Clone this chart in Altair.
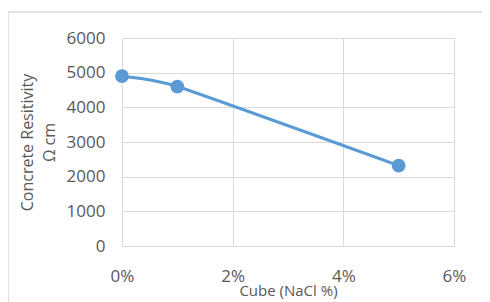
import altair as alt
import pandas as pd

nacl = [0.0, 0.01, 0.05]
resistivity = [4900, 4600, 2320]

df = pd.DataFrame({"nacl": nacl, "res": resistivity})

FONT = "Open Sans"
TXT = "#595959"
GRID = "#d9d9d9"
BLUE = "#5b9bd5"

x_enc = alt.X(
    "nacl:Q",
    scale=alt.Scale(domain=[0, 0.06], nice=False),
    axis=alt.Axis(
        values=[0, 0.02, 0.04, 0.06], format=".0%", title="Cube (NaCl %)",
        grid=True, gridColor=GRID, domain=False, ticks=False,
        labelFlush=False, labelOverlap=False,
        labelPadding=22, labelFontSize=17, labelColor=TXT, labelFont=FONT,
        titleFontSize=15, titleFont=FONT, titleColor=TXT, titleFontWeight="normal",
        titlePadding=-1,
    ),
)
y_enc = alt.Y(
    "res:Q",
    scale=alt.Scale(domain=[0, 6000], nice=False),
    axis=alt.Axis(
        values=[0, 1000, 2000, 3000, 4000, 5000, 6000], format="d",
        title=["Concrete Resitivity", "Ω cm"],
        grid=True, gridColor=GRID, domain=False, ticks=False,
        labelFlush=False, labelOverlap=False,
        labelPadding=17, labelFontSize=17, labelColor=TXT, labelFont=FONT,
        titleFontSize=16, titleFont=FONT, titleColor=TXT, titleFontWeight="normal",
        titlePadding=9, titleLineHeight=22,
    ),
)

frame = alt.Chart(pd.DataFrame({"a": [0]})).mark_rect(
    fill=None, stroke=GRID, strokeWidth=1.5
).encode(
    x=alt.value(-114), x2=alt.value(367), y=alt.value(-26), y2=alt.value(300)
)

base = alt.Chart(df).encode(x=x_enc, y=y_enc)
line = base.mark_line(color=BLUE, strokeWidth=3, interpolate="cardinal", tension=0.5)
pts = base.mark_circle(color=BLUE, size=190, opacity=1)

chart = alt.layer(frame, line, pts).properties(
    width=332, height=208, autosize="none",
    padding={"left": 114, "top": 30, "right": 28, "bottom": 56},
    background="white",
).configure_view(stroke=None)

chart.save("out.html", embed_options={"renderer": "svg", "actions": False})
